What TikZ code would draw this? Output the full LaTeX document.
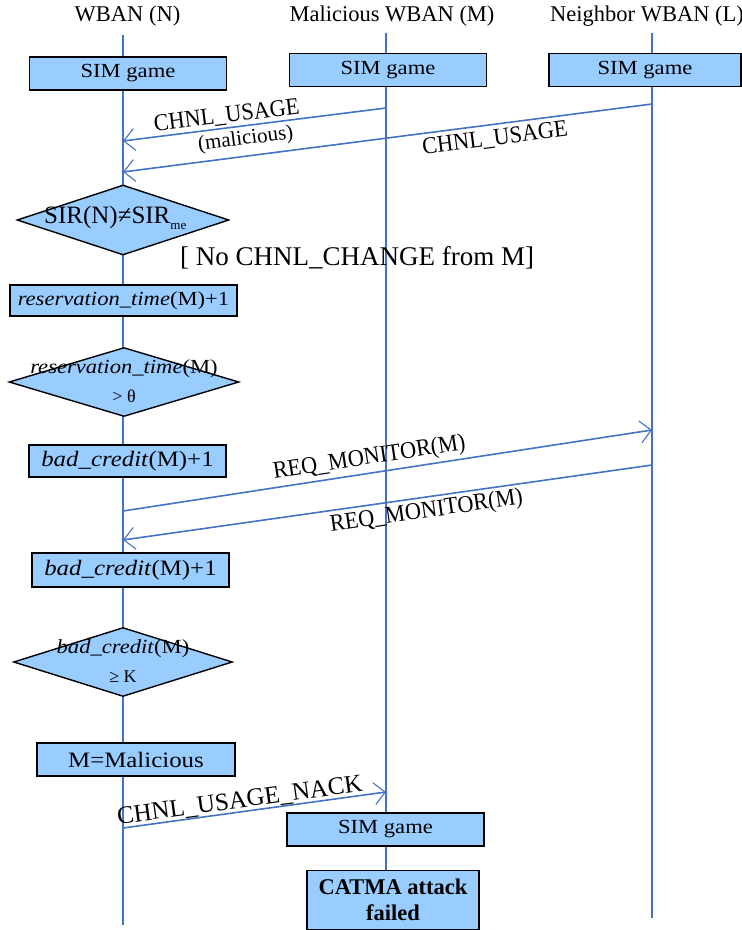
\documentclass[tikz,border=0pt]{standalone}
\usepackage{fontspec}
\setmainfont{Liberation Serif}
\newfontfamily\wfont{Liberation Serif}[FakeStretch=1.13]
\newfontfamily\nfont{Liberation Serif}[FakeStretch=0.93]
\usetikzlibrary{arrows.meta,shapes.geometric}
\definecolor{boxblue}{RGB}{153,204,255}
\definecolor{lineblue}{RGB}{68,114,196}
\newcommand{\fsz}[1]{\fontsize{#1}{#1}\selectfont}
\tikzset{
  lifeline/.style={draw=lineblue, line width=1.4pt},
  msg/.style={draw=lineblue, line width=1.6pt, -{Straight Barb[length=11pt,width=22pt,line width=1.1pt]}},
  box/.style={draw=black, line width=1.4pt, fill=boxblue, inner sep=0pt, align=center},
  btxt/.style={font=\wfont\fsz{20}},
  dia/.style={diamond, draw=black, line width=1.4pt, fill=boxblue, inner sep=0pt},
  head/.style={font=\fsz{22.5}},
  lbl/.style={font=\nfont\fsz{24}, inner sep=2pt},
}
\begin{document}
\begin{tikzpicture}[x=1pt,y=-1pt]
\useasboundingbox (0,0) rectangle (742,930);
% headers
\node[head] (hN) at (127.5,16) {WBAN (N)};
\node[head] (hM) at (392,16) {Malicious WBAN (M)};
\node[head] (hL) at (647,16) {Neighbor WBAN (L)};
% lifelines
\coordinate (Ntop) at (123,35); \coordinate (Nbot) at (123,925);
\coordinate (Mtop) at (386,33); \coordinate (Mbot) at (386,870);
\coordinate (Ltop) at (652,33); \coordinate (Lbot) at (652,918);
\draw[lifeline] (Ntop) -- (Nbot);
\draw[lifeline] (Mtop) -- (Mbot);
\draw[lifeline, line width=1.8pt] (Ltop) -- (Lbot);
% top boxes
\node[box, btxt, minimum width=197pt, minimum height=33pt] (simN) at (128,73.5) {SIM game};
\node[box, btxt, minimum width=197pt, minimum height=33pt] (simM) at (388,70) {SIM game};
\node[box, btxt, minimum width=192pt, minimum height=33pt] (simL) at (645,70) {SIM game};
% messages 1,2
\coordinate (a1s) at (386,108); \coordinate (a1e) at (123,141);
\coordinate (a2s) at (652,104); \coordinate (a2e) at (123,172);
\draw[msg] (a1s) -- node[lbl, sloped, above, pos=0.6, inner sep=1.5pt] (l1) {CHNL\_USAGE}
                    node[lbl, sloped, below, pos=0.54, inner sep=3.5pt, font=\fsz{21}] (l1b) {(malicious)} (a1e);
\draw[msg] (a2s) -- node[lbl, sloped, below, pos=0.3, inner sep=4pt] (l2) {CHNL\_USAGE} (a2e);
% diamond 1
\node[dia, minimum width=212pt, minimum height=70pt] (d1) at (123,220) {};
\node[font=\fsz{25}, inner sep=0pt, anchor=west] (d1t) at (44,218) {SIR(N)≠SIR\raisebox{-6pt}{\fsz{13}me}};
\node[font=\fsz{27}, inner sep=0pt, anchor=west] (nochg) at (180,258) {[ No CHNL\_CHANGE from M]};
% reservation box
\node[box, btxt, minimum width=227pt, minimum height=31pt] (resv) at (123.5,300.5) {\textit{reservation\_time}(M)+1};
% diamond 2
\node[dia, minimum width=230pt, minimum height=69pt] (d2) at (124,382) {};
\node[btxt, inner sep=0pt] (d2t) at (124,369) {\textit{reservation\_time}(M)};
\node[font=\fsz{18}, inner sep=0pt] (d2u) at (124,396) {> θ};
% bad credit 1
\node[box, minimum width=197pt, minimum height=32pt, font=\wfont\fsz{22}] (bad1) at (127.5,461) {\textit{bad\_credit}(M)+1};
% messages 3,4
\coordinate (a3s) at (123,511); \coordinate (a3e) at (652,430);
\coordinate (a4s) at (652,465); \coordinate (a4e) at (123,540);
\draw[msg] (a3s) -- node[lbl, sloped, above, pos=0.47, inner sep=3pt] (l3) {REQ\_MONITOR(M)} (a3e);
\draw[msg] (a4s) -- node[lbl, sloped, below, pos=0.43, inner sep=3pt] (l4) {REQ\_MONITOR(M)} (a4e);
% bad credit 2
\node[box, minimum width=197pt, minimum height=34pt, font=\wfont\fsz{22}] (bad2) at (130.5,570) {\textit{bad\_credit}(M)+1};
% diamond 3
\node[dia, minimum width=219pt, minimum height=69pt] (d3) at (123,662) {};
\node[btxt, inner sep=0pt] (d3t) at (123,649) {\textit{bad\_credit}(M)};
\node[font=\fsz{18}, inner sep=0pt] (d3u) at (123,677) {≥ K};
% malicious
\node[box, minimum width=198pt, minimum height=33pt, font=\wfont\fsz{22}] (mal) at (136,759.5) {M=Malicious};
% message 5
\coordinate (a5s) at (123,828); \coordinate (a5e) at (386,792);
\draw[msg] (a5s) -- node[lbl, sloped, above, pos=0.45, inner sep=0pt, font=\fsz{25}] (l5) {CHNL\_USAGE\_NACK} (a5e);
% bottom boxes
\node[box, btxt, minimum width=197pt, minimum height=33pt] (simM2) at (385.5,829.5) {SIM game};
\node[box, minimum width=172pt, minimum height=59pt, font=\fsz{22.5}\bfseries] (catma) at (393,900) {CATMA attack\\[3pt]failed};
\end{tikzpicture}
\end{document}
